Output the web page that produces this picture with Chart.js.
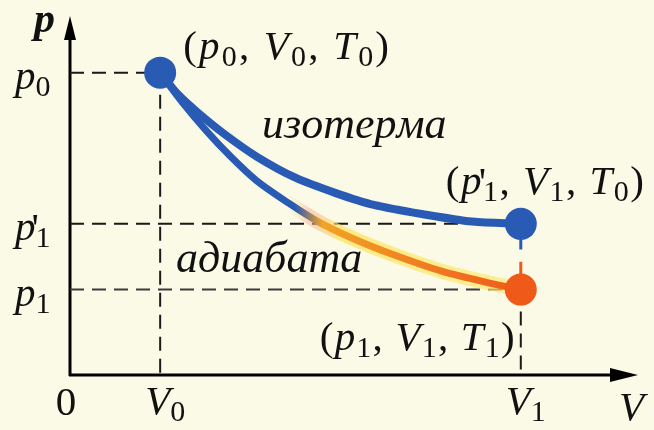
<!DOCTYPE html>
<html>
<head>
<meta charset="utf-8">
<script src="https://cdn.jsdelivr.net/npm/chart.js@4/dist/chart.umd.min.js"></script>
<style>
  html, body { margin: 0; padding: 0; background: #fafae6; }
  canvas { display: block; }
</style>
</head>
<body>
<canvas id="chart" width="654" height="430"></canvas>
<script>
// p–V diagram: isotherm vs adiabat from the same start state
const volumeTicks = [0, 1, 5]
const volumeTickLabels = ['0', 'V_0', 'V_1']
const pressureTicks = [4, 2, 1.13]
const pressureTickLabels = ['p_0', "p'_1", 'p_1']

const isothermV = [1.0, 1.2, 1.41, 1.71, 2.07, 2.5, 2.94, 3.37, 3.95, 4.46, 5.0]
const isothermP = [4.0, 3.71, 3.48, 3.19, 2.89, 2.61, 2.41, 2.25, 2.12, 2.03, 2.0]

const adiabatV = [1.0, 1.25, 1.52, 1.79, 2.07, 2.43, 2.75, 3.15, 3.59, 4.13, 4.68, 5.0]
const adiabatP = [4.0, 3.6, 3.22, 2.88, 2.57, 2.27, 2.03, 1.8, 1.59, 1.37, 1.21, 1.13]

const stateV = [1, 5, 5]
const stateP = [4, 2, 1.13]
const stateLabels = ['(p_0, V_0, T_0)', "(p'_1, V_1, T_0)", '(p_1, V_1, T_1)']
const curveNames = ['изотерма', 'адиабата']

const BLUE = '#2a5bb4'
const ORANGE = '#f05a18'
const SERIF = '"Liberation Serif", "DejaVu Serif", serif'

const toPoints = (xs, ys) => xs.map((x, i) => ({ x, y: ys[i] }))

const [V0, V1] = [volumeTicks[1], volumeTicks[2]]
const [P0, P1prime, P1] = pressureTicks

const guides = [
    [{ x: 0, y: P0 }, { x: V0, y: P0 }],
    [{ x: V0, y: P0 }, { x: V0, y: 0 }],
    [{ x: 0, y: P1prime }, { x: V1, y: P1prime }],
    [{ x: 0, y: P1 }, { x: V1, y: P1 }],
    [{ x: V1, y: P1 }, { x: V1, y: 0 }]
]

const guideDatasets = guides.map((data, i) => ({
    data,
    showLine: true,
    borderColor: i === 3 ? '#3a3a3a' : '#1a1a1a',
    borderWidth: 2,
    borderDash: [14, 8],
    pointRadius: 0,
    order: 5
}))

// blue on the first stretch, orange once the gas has cooled
const adiabatGradient = (context, stops) => {
    const chart = context.chart
    if (!chart.chartArea) return BLUE
    const scaleX = chart.scales.x
    const g = chart.ctx.createLinearGradient(scaleX.getPixelForValue(V0), 0, scaleX.getPixelForValue(V1), 0)
    stops.forEach(([v, color]) => g.addColorStop((v - V0) / (V1 - V0), color))
    return g
}

// rich text: letters italic, digits/punctuation upright, _x subscript, ' prime
const drawRich = (ctx, text, x, y, size, opts = {}) => {
    const italic = `${opts.bold ? 'bold ' : ''}italic ${size}px ${SERIF}`
    const upright = `${size}px ${SERIF}`
    const sub = `${Math.round(size * 0.74)}px ${SERIF}`
    const gap = opts.gap || 0
    const pieces = []

    for (let i = 0; i < text.length; i++) {
        const ch = text[i]
        if (ch === '_') {
            pieces.push({ t: text[++i], f: sub, dy: size * 0.17, adv: true })
        } else if (ch === "'") {
            pieces.push({ t: "'", f: `${size}px ${SERIF}`, dy: size * 0.02, adv: false, dx: -size * 0.1 })
        } else if (/[A-Za-zА-Яа-яёЁ]/.test(ch)) {
            pieces.push({ t: ch, f: italic, dy: 0, adv: true })
        } else {
            pieces.push({ t: ch, f: upright, dy: 0, adv: true })
        }
    }

    let width = 0
    pieces.forEach(p => {
        ctx.font = p.f
        p.w = ctx.measureText(p.t).width
        if (p.adv) width += p.w + gap
    })

    let cx = opts.align === 'center' ? x - width / 2 : x
    ctx.save()
    ctx.fillStyle = '#111'
    ctx.textBaseline = 'alphabetic'
    ctx.textAlign = 'left'
    pieces.forEach(p => {
        ctx.font = p.f
        ctx.fillText(p.t, cx + (p.dx || 0), y + p.dy)
        if (p.adv) cx += p.w + gap
    })
    ctx.restore()
}

const background = {
    id: 'background',
    beforeDraw(chart) {
        const { ctx, width, height } = chart
        ctx.save()
        ctx.fillStyle = '#fafae6'
        ctx.fillRect(0, 0, width, height)
        ctx.restore()
    }
}

const axes = {
    id: 'axes',
    beforeDatasetsDraw(chart) {
        const { ctx, chartArea, scales } = chart
        const ox = scales.x.getPixelForValue(0)
        const oy = scales.y.getPixelForValue(0)

        ctx.save()
        ctx.strokeStyle = '#000'
        ctx.fillStyle = '#000'
        ctx.lineWidth = 3

        ctx.beginPath()
        ctx.moveTo(ox, oy + 1)
        ctx.lineTo(ox, chartArea.top + 12)
        ctx.moveTo(ox - 1, oy)
        ctx.lineTo(chartArea.right - 18, oy)
        ctx.stroke()

        ctx.beginPath()
        ctx.moveTo(ox, chartArea.top)
        ctx.lineTo(ox - 6, chartArea.top + 24)
        ctx.lineTo(ox + 6, chartArea.top + 24)
        ctx.closePath()
        ctx.fill()

        ctx.beginPath()
        ctx.moveTo(chartArea.right, oy)
        ctx.lineTo(chartArea.right - 28, oy - 7)
        ctx.lineTo(chartArea.right - 28, oy + 7)
        ctx.closePath()
        ctx.fill()
        ctx.restore()
    },
    afterDraw(chart) {
        const { ctx, chartArea, scales } = chart
        const size = 41

        pressureTicks.forEach((p, i) => {
            drawRich(ctx, pressureTickLabels[i], 15, scales.y.getPixelForValue(p) + 16, size)
        })

        volumeTicks.forEach((v, i) => {
            const px = scales.x.getPixelForValue(v)
            if (v === 0) drawRich(ctx, volumeTickLabels[i], px - 4, 415, size, { align: 'center' })
            else drawRich(ctx, volumeTickLabels[i], px - 15, 414, size)
        })

        drawRich(ctx, 'p', chartArea.left - 36, 32, 42, { bold: true })
        drawRich(ctx, 'V', chartArea.right - 19, 420, size)

        const sx = i => scales.x.getPixelForValue(stateV[i])
        const sy = i => scales.y.getPixelForValue(stateP[i])
        drawRich(ctx, stateLabels[0], sx(0) + 23, sy(0) - 14, size, { gap: 2.2 })
        drawRich(ctx, stateLabels[1], sx(1) - 75, sy(1) - 30, size, { gap: 1.5 })
        drawRich(ctx, stateLabels[2], sx(2) - 201, sy(2) + 60, size, { gap: 1.2 })

        drawRich(ctx, curveNames[0], 262, 138, 44)
        drawRich(ctx, curveNames[1], 176, 272, 44)
    }
}

new Chart(document.getElementById('chart'), {
    type: 'scatter',
    data: {
        datasets: [
            {
                data: toPoints(stateV, stateP),
                pointRadius: 16,
                pointHoverRadius: 16,
                pointBorderWidth: 0,
                backgroundColor: [BLUE, BLUE, ORANGE],
                order: 0
            },
            {
                data: toPoints(isothermV, isothermP),
                showLine: true,
                borderColor: BLUE,
                borderWidth: 8,
                tension: 0.3,
                pointRadius: 0,
                order: 1
            },
            {
                data: toPoints(adiabatV, adiabatP),
                showLine: true,
                borderColor: ctx => adiabatGradient(ctx, [[V0, BLUE], [2.5, BLUE], [2.8, '#f2a326'], [4.0, '#f07a20'], [V1, ORANGE]]),
                borderWidth: 7,
                tension: 0.3,
                pointRadius: 0,
                order: 2
            },
            {
                data: toPoints(adiabatV, adiabatP),
                showLine: true,
                borderColor: ctx => adiabatGradient(ctx, [[V0, 'rgba(255,235,120,0)'], [2.4, 'rgba(255,235,120,0)'], [2.65, 'rgba(250,170,150,0.5)'], [3.0, 'rgba(255,228,90,0.7)'], [V1, 'rgba(255,232,110,0.65)']]),
                borderWidth: 15,
                tension: 0.3,
                pointRadius: 0,
                order: 3
            },
            {
                data: [{ x: V1, y: P1prime }, { x: V1, y: 1.66 }],
                showLine: true,
                borderColor: BLUE,
                borderWidth: 3,
                pointRadius: 0,
                order: 4
            },
            {
                data: [{ x: V1, y: 1.5 }, { x: V1, y: P1 }],
                showLine: true,
                borderColor: ORANGE,
                borderWidth: 3,
                pointRadius: 0,
                order: 4
            },
            ...guideDatasets
        ]
    },
    options: {
        responsive: false,
        animation: false,
        events: [],
        layout: { padding: { left: 70, right: 5, top: 10, bottom: 55 } },
        plugins: {
            legend: { display: false },
            tooltip: { enabled: false }
        },
        scales: {
            x: { type: 'linear', display: false, min: 0, max: 6.3 },
            y: { type: 'linear', display: false, min: 0, max: 4.75 }
        }
    },
    plugins: [background, axes]
})
</script>
</body>
</html>
